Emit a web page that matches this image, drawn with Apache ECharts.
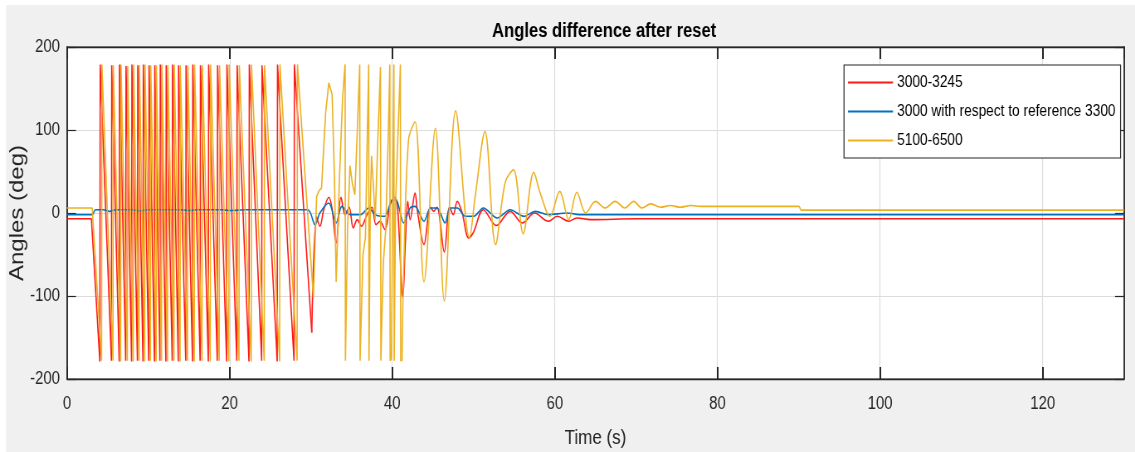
<!DOCTYPE html>
<html>
<head>
<meta charset="utf-8">
<script src="https://cdn.jsdelivr.net/npm/echarts@6/dist/echarts.min.js"></script>
<style>
  html, body { margin: 0; padding: 0; background: #ffffff; overflow: hidden; }
  #chart { width: 1368px; height: 452px; transform: scaleX(0.8297); transform-origin: 0 0; }
</style>
</head>
<body>
<div id="chart"></div>
<script>
// ---- data ----
const titleText = 'Angles difference after reset';
const xName = 'Time (s)';
const yName = 'Angles (deg)';
const seriesNames = ['3000-3245', '3000 with respect to reference 3300', '5100-6500'];
const seriesColors = ['#ff1a1a', '#0072bd', '#edb120'];

// red: wrapping sawtooth part [time, angle]
const redSaw = [
  [0,-7],[3.0,-7],
  [4.04,-179],[4.08,179],[5.46,-178],[5.50,178],[6.42,-179],[6.46,179],
  [7.22,-178],[7.26,177],[7.94,-179],[7.98,179],[8.66,-178],[8.70,178],
  [9.34,-179],[9.38,179],[10.05,-178],[10.09,178],[10.76,-179],[10.80,178],
  [11.43,-178],[11.47,179],[12.16,-179],[12.20,178],[12.94,-178],[12.98,179],
  [13.68,-179],[13.72,178],[14.60,-178],[14.64,178],[15.43,-179],[15.47,179],
  [16.37,-178],[16.41,178],[17.38,-179],[17.42,179],[18.48,-178],[18.52,178],
  [19.63,-179],[19.67,179],[20.88,-178],[20.92,178],[22.38,-179],[22.42,179],
  [23.94,-178],[23.98,178],[25.85,-179],[25.89,179],[27.92,-178],[27.96,179],
  [30.1,-144]
];
// red: damped part after the last wrap
const redDamped = [
  [30.1,-144],[30.7,-5],[31.1,-16],[31.6,5],[32.2,19],[32.6,5],[33.1,-36],[33.7,19],
  [34.2,-2],[34.7,7],[35.2,-18],[35.7,-8],[36.2,-16],[36.9,-2],[37.5,7],[38.0,-14],
  [38.5,-10],[39.1,-20],[39.75,10],[40.3,19],[40.65,7],[41.3,-102],[41.6,-38],[41.9,14],
  [42.2,-8],[42.8,24],[43.1,2],[43.9,-38],[44.7,7],[45.1,2],[45.5,7],[46.4,-47],
  [47.05,7],[47.5,-2],[48.0,14],[48.6,0],[49.4,-30],[50.0,-23],[51.2,4],[52.8,-15],
  [54.5,2],[56.0,-12],[57.5,0],[59.2,-10],[60.3,-4],[61.7,-10],[62.7,-6],[64.4,-8],
  [70,-7],[90,-7],[130,-7]
];
// blue
const blueData = [
  [0,-2],[3.1,-2],[3.5,4],[4.5,4],[5.2,2],[6,4],[8,4],[9,2.5],[10,4],[14,4],[15,3],
  [16,4],[19,4],[20,3],[22,4],[29.6,4],[30.5,-14],[31.1,0],[32.2,12],[33.1,-12],
  [33.8,8],[34.8,-2],[36.1,-2],[37.1,6],[37.9,-2],[39.1,-4],[40.0,16],[40.6,14],
  [41.4,-12],[42.2,6],[42.8,8],[43.9,-10],[44.7,6],[45.5,6],[46.5,-12],[47.1,6],
  [48.0,6],[49.0,-4],[50.0,-4],[51.2,6],[52.9,-6],[54.5,4],[56.2,-4],[57.6,2],
  [59.2,-2],[61.5,0],[63,-2],[90,-2],[130,-2]
];
// yellow: wrapping part
const yellowSaw = [
  [0,6],[3.1,6],
  [4.25,-178],[4.29,179],[5.65,-178],[5.69,178],[6.60,-179],[6.64,179],
  [7.42,-178],[7.46,177],[8.14,-179],[8.18,179],[8.86,-178],[8.90,178],
  [9.55,-179],[9.59,179],[10.26,-178],[10.30,178],[10.96,-179],[10.99,178],
  [11.62,-178],[11.66,179],[12.36,-179],[12.40,178],[13.15,-178],[13.19,179],
  [13.90,-179],[13.94,178],[14.82,-178],[14.86,178],[15.65,-179],[15.69,179],
  [16.60,-178],[16.64,178],[17.62,-179],[17.66,179],[18.72,-178],[18.76,178],
  [19.90,-179],[19.94,179],[21.15,-178],[21.19,178],[22.65,-179],[22.69,179],
  [24.25,-178],[24.29,178],[26.15,-179],[26.19,179],[28.30,-178],[28.34,179],
  [30.3,-102],[30.7,20],[31.0,27],[31.3,30],[31.8,120],[32.2,157],[32.6,143],
  [32.9,40],[33.1,-83],[33.5,40],[33.9,140],[34.2,179],[34.24,-178],[34.5,-20],
  [34.8,57],[35.1,35],[35.4,22],[35.7,100],[36.0,179],[36.04,-178],[36.4,-50],
  [36.7,-30],[36.9,80],[37.1,179],[37.14,-178],[37.3,10],[37.45,69],[37.7,30],
  [37.9,-8],[38.2,80],[38.55,176],[38.6,-178],[38.9,-60],[39.2,-20],[39.5,90],
  [39.7,179],[39.74,-178],[39.9,-175],[40.2,179],[40.24,-178],[40.4,8],[41.0,179],
  [41.04,-178],[41.2,-178]
];
// yellow: damped part
const yellowDamped = [
  [41.2,-178],[41.4,-72],[42.0,88],[42.8,110],[43.9,-83],[45.3,102],[46.4,-106],
  [47.8,123],[49.5,-30],[50.2,20],[51.4,98],[52.7,-38],[53.9,37],[54.9,52],
  [56.1,-25],[57.4,49],[58.2,24],[59.4,-4],[60.6,26],[61.7,-8],[62.7,25],[63.8,0],
  [65.0,14],[66.2,6],[67.4,14],[68.6,6],[69.7,14],[70.7,6],[71.8,11],[73.0,7],
  [74.2,9],[75.4,7],[76.7,9],[78,8],[90,8],[90.3,3.5],[130,3.5]
];
const xTicks = { min: 0, max: 130, interval: 20 };
const yTicks = { min: -200, max: 200, interval: 100 };

// ---- chart (drawn wide, then narrowed horizontally like the reference) ----
const S = 0.8297;                 // horizontal squeeze applied by CSS
const hx = v => v / S;            // reference x-pixels -> chart x-pixels
const font = "'Liberation Sans', Arial, sans-serif";
const axisCol = '#262626';
const gridCol = '#dcdcdc';
const chart = echarts.init(document.getElementById('chart'), null, { renderer: 'canvas' });

function lineSeries(name, data, color, smooth) {
  return {
    name: name, type: 'line', data: data, showSymbol: false, symbol: 'none',
    smooth: smooth, animation: false,
    lineStyle: { color: color, width: 1.6 }, itemStyle: { color: color }
  };
}

const option = {
  animation: false,
  backgroundColor: 'transparent',
  graphic: [{
    type: 'rect', z: -10, silent: true,
    shape: { x: hx(6), y: 5, width: 2000, height: 452 },
    style: { fill: '#f0f0f0' }
  }],
  title: {
    text: titleText, left: hx(600), top: 16, textAlign: 'center',
    textStyle: { fontFamily: font, fontSize: 20, fontWeight: 'bold', color: '#000000' }
  },
  grid: {
    left: hx(67), right: hx(11), top: 47, bottom: 73, show: true,
    containLabel: false, outerBoundsMode: 'none',
    backgroundColor: '#ffffff', borderColor: axisCol, borderWidth: 1
  },
  legend: {
    orient: 'vertical', left: hx(844), top: 65,
    data: seriesNames, icon: 'rect', itemWidth: hx(45), itemHeight: 2, itemGap: 12,
    padding: [9, hx(5), 9, hx(4)],
    backgroundColor: '#ffffff', borderColor: axisCol, borderWidth: 1.2,
    textStyle: { fontFamily: font, fontSize: 16.5, color: '#000000' }
  },
  xAxis: [{
    type: 'value', min: xTicks.min, max: xTicks.max, interval: xTicks.interval,
    name: xName, nameLocation: 'middle', nameGap: 49, nameMoveOverlap: false,
    nameTextStyle: { fontFamily: font, fontSize: 20.5, color: axisCol },
    axisLine: { show: true, onZero: false, lineStyle: { color: axisCol, width: 1.4 } },
    axisTick: { show: true, inside: true, length: 12, lineStyle: { color: axisCol, width: 2 } },
    axisLabel: { fontFamily: font, fontSize: 18, color: axisCol, margin: 16, showMaxLabel: false },
    splitLine: { show: true, lineStyle: { color: gridCol, width: 1.2 } }
  }, {
    type: 'value', position: 'top', min: xTicks.min, max: xTicks.max, interval: xTicks.interval,
    axisLine: { show: true, onZero: false, lineStyle: { color: axisCol, width: 1.4 } },
    axisTick: { show: true, inside: true, length: 12, lineStyle: { color: axisCol, width: 2 } },
    axisLabel: { show: false }, splitLine: { show: false }
  }],
  yAxis: [{
    type: 'value', min: yTicks.min, max: yTicks.max, interval: yTicks.interval,
    name: yName, nameLocation: 'middle', nameGap: 47, nameRotate: 90, nameMoveOverlap: false,
    nameTextStyle: { fontFamily: font, fontSize: 24, color: axisCol },
    axisLine: { show: true, onZero: false, lineStyle: { color: axisCol, width: 1.8 } },
    axisTick: { show: true, inside: true, length: hx(9), lineStyle: { color: axisCol, width: 1.2 } },
    axisLabel: { fontFamily: font, fontSize: 18, color: axisCol, margin: hx(7) },
    splitLine: { show: true, lineStyle: { color: gridCol, width: 1 } }
  }, {
    type: 'value', position: 'right', min: yTicks.min, max: yTicks.max, interval: yTicks.interval,
    axisLine: { show: true, onZero: false, lineStyle: { color: axisCol, width: 1.8 } },
    axisTick: { show: true, inside: true, length: hx(9), lineStyle: { color: axisCol, width: 1.2 } },
    axisLabel: { show: false }, splitLine: { show: false }
  }],
  series: [
    lineSeries(seriesNames[0], redSaw, seriesColors[0], false),
    lineSeries(seriesNames[0], redDamped, seriesColors[0], 0.35),
    lineSeries(seriesNames[1], blueData, seriesColors[1], 0.3),
    lineSeries(seriesNames[2], yellowSaw, seriesColors[2], false),
    lineSeries(seriesNames[2], yellowDamped, seriesColors[2], 0.35)
  ]
};
chart.setOption(option);
</script>
</body>
</html>
